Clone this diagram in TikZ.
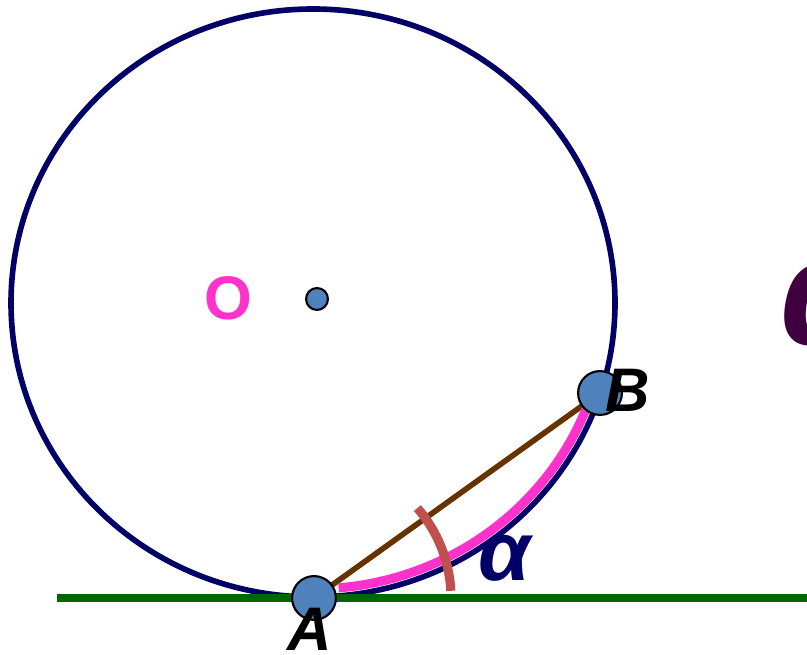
\documentclass[tikz,border=0pt]{standalone}
\usepackage{fontspec}
\setmainfont{Liberation Sans}
\definecolor{navy}{HTML}{000066}
\definecolor{grass}{HTML}{006600}
\definecolor{bark}{HTML}{663300}
\definecolor{rose}{HTML}{FF33CC}
\definecolor{brick}{HTML}{C0504D}
\definecolor{dotblue}{HTML}{4F81BD}
\definecolor{plum}{HTML}{400040}
\tikzset{
  pt/.style={circle, draw=black, line width=1.2pt, fill=dotblue, inner sep=0pt},
  lbl/.style={font=\fontsize{35}{35}\selectfont\bfseries\itshape, inner sep=0pt}
}
\begin{document}
\begin{tikzpicture}[x=0.02cm, y=0.02cm]
    \useasboundingbox (0,0) rectangle (807,655);

    % Points
    \coordinate (A) at (314,57);
    \coordinate (B) at (600,262);
    \coordinate (O) at (317,356);
    \coordinate (Tl) at (57,57);
    \coordinate (Tr) at (807,57);

    % Circle through A and B
    \draw[navy, line width=3.2pt] (313,352) ellipse [x radius=302, y radius=294];

    % Tangent line at A
    \draw[grass, line width=4.4pt] (Tl) -- (Tr);

    % Chord AB
    \draw[bark, line width=3.2pt] (A) -- (B);

    % Arc AB in pink
    \draw[rose, line width=5.2pt] (313,352) ++(-85:294 and 286)
        arc[start angle=-85, end angle=-20, x radius=294, y radius=286];

    % Angle between chord and tangent
    \draw[brick, line width=5.2pt] (A) ++(41:137) arc[start angle=41, end angle=3, radius=137];

    % Draw the points
    \node[pt, minimum size=22pt*0.567] (Odot) at (O) {};
    \node[pt, minimum size=44pt*0.567] (Adot) at (A) {};
    \node[pt, minimum size=44pt*0.567] (Bdot) at (B) {};

    % Labels
    \node[font=\fontsize{35}{35}\selectfont\bfseries, text=rose, inner sep=0pt] (Olbl) at (228,357) {O};
    \node[lbl] (Albl) at (310,26) {A};
    \node[lbl] (Blbl) at (628,265) {B};
    \node[font=\fontsize{48}{48}\selectfont\bfseries\itshape, text=navy, inner sep=0pt] (alpha) at (505,97) {α};
    \node[font=\fontsize{86}{86}\selectfont\bfseries\itshape, text=plum, inner sep=0pt, anchor=west] (alpha2) at (780,350) {α};
\end{tikzpicture}
\end{document}
